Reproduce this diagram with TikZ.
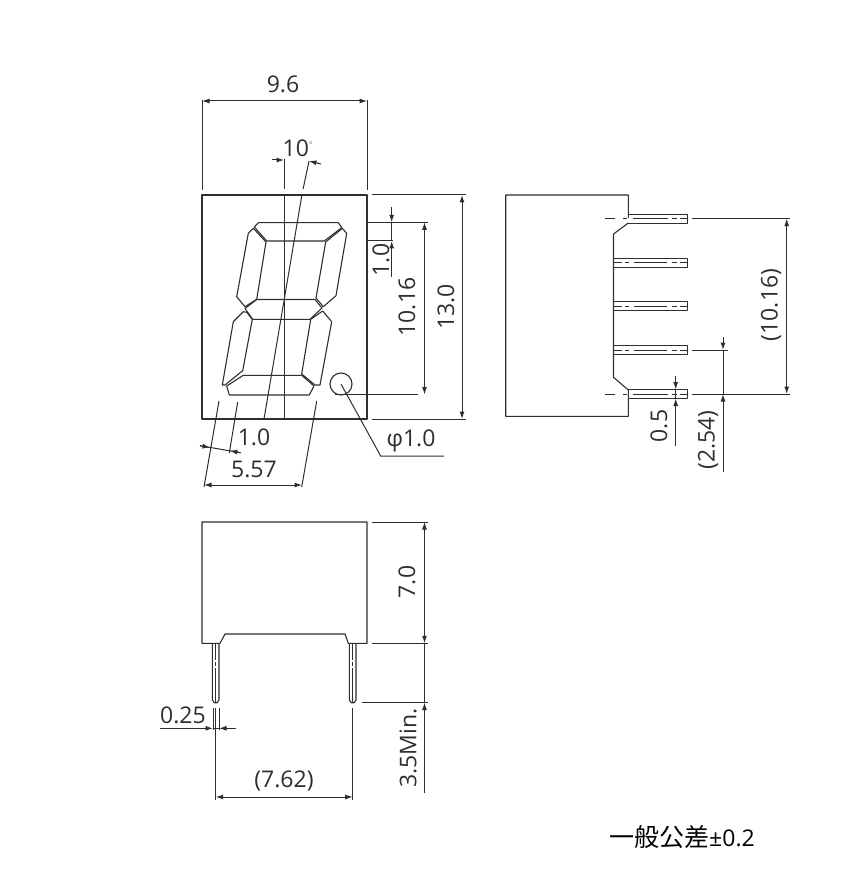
\documentclass[tikz,border=0pt]{standalone}
\usepackage{fontspec}
\setmainfont{Open Sans}
\newfontfamily\cjk{Noto Sans CJK JP}
\usetikzlibrary{arrows.meta}
\definecolor{inkgray}{gray}{0.18}
\tikzset{
  part/.style={draw=inkgray, line width=1.1pt, line join=round},
  thinline/.style={draw=inkgray, line width=1pt},
  dimline/.style={thinline, arrows={Latex[length=7.5pt,width=5pt]-Latex[length=7.5pt,width=5pt]}},
  dimend/.style={thinline, arrows={-Latex[length=7.5pt,width=5pt]}},
  label/.style={inner sep=0pt, text=inkgray, font=\fontsize{23}{27}\selectfont},
  vlabel/.style={label, rotate=90},
  pincenter/.style={thinline, dash pattern=on 8pt off 3pt on 4pt off 5pt on 33pt off 5pt on 5pt off 3pt on 8pt},
  outercenter/.style={thinline, dash pattern=on 10pt off 8pt on 4pt off 6pt on 35pt off 4pt on 5pt off 3pt on 8pt},
}
\begin{document}
\begin{tikzpicture}[x=1pt, y=-1pt]
 \useasboundingbox (0,0) rectangle (848,882);

 %front view
 \draw[part] (202,195) rectangle (367,419);
 \draw[part] (341,384) circle (11);

 %segments
 \draw[part] (258.3,222.7) -- (338.3,222.7) -- (341.7,227.7) -- (324.3,241) -- (266.7,241) -- (254.3,227) -- cycle;
 \draw[part] (342.3,228.3) -- (346.7,233.3) -- (336,295.7) -- (323.3,306.7) -- (316,298) -- (325.7,242) -- cycle;
 \draw[part] (253.3,228.3) -- (248.3,233.3) -- (236.7,296.7) -- (245,306.7) -- (256.7,299.3) -- (266,242) -- cycle;
 \draw[part] (256.7,299.5) -- (315,299.5) -- (322,308) -- (310,319.3) -- (252.7,319.3) -- (245,308.5) -- cycle;
 \draw[part] (243.3,311.7) -- (233.3,321.7) -- (222.3,385) -- (225,385) -- (242.7,370.7) -- (252.3,319.3) -- (246.7,312.3) -- cycle;
 \draw[part] (322.7,311) -- (331.7,321.7) -- (320,385) -- (315,385) -- (301.7,374) -- (310.7,319.3) -- cycle;
 \draw[part] (243.3,375.3) -- (301.7,375.3) -- (314,386) -- (309.3,395) -- (229.3,395) -- (226.7,386) -- cycle;

 %width 9.6
 \draw[thinline] (202,100) -- (202,190);
 \draw[thinline] (367,100) -- (367,190);
 \draw[dimline] (202,101) -- (367,101);
 \node[label] (width) at (283,84) {9.6};

 %slant 10
 \draw[thinline] (284,159) -- (284,189);
 \draw[thinline] (284,195) -- (284,419);
 \draw[thinline] (309,161) -- (303.1,189);
 \draw[thinline] (301.9,195) -- (264,419);
 \draw[dimend] (272,160) -- (284,160);
 \draw[dimend] (321,164) -- (309,161);
 \node[label] (slant) at (298,148) {10\raisebox{9pt}{\fontsize{8}{9}\selectfont $^\circ$}};

 %below the front view
 \draw[thinline] (219,401) -- (204,487);
 \draw[thinline] (237.7,402) -- (229.3,453);
 \draw[thinline] (316.7,401) -- (301.7,487);
 \draw[thinline] (200,445.7) -- (240.7,452.7);
 \draw[dimend] (200,445.7) -- (210,447.5);
 \draw[dimend] (240.7,452.7) -- (229.8,450.8);
 \draw[dimline] (204,485) -- (302,485);
 \node[label] (gap) at (254,437) {1.0};
 \node[label] (pitch) at (254,469) {5.57};

 %dot leader
 \draw[thinline] (341,384) -- (380.7,456) -- (444,456);
 \node[label] (dot) at (411,441) {φ1.0};

 %right of the front view
 \draw[thinline] (372,195) -- (466,195);
 \draw[thinline] (372,419) -- (466,419);
 \draw[thinline] (367,222.3) -- (428,222.3);
 \draw[thinline] (367,241) -- (393,241);
 \draw[thinline] (335,394.5) -- (418,394.5);
 \draw[dimline] (462,195) -- (462,419);
 \draw[dimline] (424.5,222.3) -- (424.5,394.5);
 \draw[thinline] (391.7,222.3) -- (391.7,241);
 \draw[dimend] (391.7,207) -- (391.7,222.3);
 \draw[dimend] (391.7,277) -- (391.7,241);
 \node[vlabel] (segh) at (381,260) {1.0};
 \node[vlabel] (digith) at (407,307) {10.16};
 \node[vlabel] (bodyh) at (446,307) {13.0};

 %side view
 \draw[part] (628.3,218) -- (628.3,195) -- (505.7,195) -- (505.7,416.3) -- (628.3,416.3) -- (628.3,390) -- (613.5,377.3) -- (613.5,234) -- (628.3,223);
 \foreach \y in {218.7,394} {
   \draw[part] (628.3,\y-4.5) -- (687.7,\y-4.5) -- (687.7,\y+4.5) -- (628.3,\y+4.5);
   \draw[outercenter] (605,\y) -- (688,\y);
 }
 \foreach \y in {262.7,306.3,350} {
   \draw[part] (613.5,\y-4.5) -- (687.7,\y-4.5) -- (687.7,\y+4.5) -- (613.5,\y+4.5);
   \draw[pincenter] (613.5,\y) -- (687.7,\y);
 }

 %side view dimensions
 \draw[thinline] (692,218.7) -- (790,218.7);
 \draw[thinline] (692,394) -- (790,394);
 \draw[thinline] (692,350) -- (728,350);
 \draw[dimline] (786.7,218.7) -- (786.7,394);
 \draw[thinline] (675.7,389.5) -- (675.7,398.5);
 \draw[dimend] (675.7,376) -- (675.7,389.5);
 \draw[dimend] (675.7,446) -- (675.7,398.5);
 \draw[thinline] (723,350) -- (723,394);
 \draw[dimend] (723,337) -- (723,350);
 \draw[dimend] (723,472) -- (723,394);
 \node[vlabel] (span) at (771,305) {(10.16)};
 \node[vlabel] (pinw) at (659,426) {0.5};
 \node[vlabel] (pinp) at (708,440) {(2.54)};

 %bottom view
 \draw[part] (220,643.3) -- (202,643.3) -- (202,522) -- (367,522) -- (367,643.3) -- (348.3,643.3) -- (345,634) -- (225,634) -- cycle;
 \foreach \x in {215.7,352.7} {
   \draw[part] (\x-3.3,643.3) -- (\x-3.3,700) -- (\x-1.5,702.7) -- (\x+1.5,702.7) -- (\x+3.3,700) -- (\x+3.3,643.3);
   \draw[thinline, dash pattern=on 17pt off 2pt on 4pt off 2pt on 34pt] (\x,643.3) -- (\x,702);
 }

 %bottom view dimensions
 \draw[thinline] (213,708) -- (213,730);
 \draw[thinline] (219,708) -- (219,730);
 \draw[thinline] (215.7,708) -- (215.7,800);
 \draw[thinline] (352.7,708) -- (352.7,800);
 \draw[thinline] (213,728.3) -- (219,728.3);
 \draw[dimend] (160,728.3) -- (213,728.3);
 \draw[dimend] (236,728.3) -- (219,728.3);
 \draw[dimline] (215.7,797) -- (352.7,797);
 \node[label] (lead) at (183,715) {0.25};
 \node[label] (leadp) at (284,781) {(7.62)};

 \draw[thinline] (372,522) -- (428,522);
 \draw[thinline] (372,643.3) -- (428,643.3);
 \draw[thinline] (361.7,702.5) -- (428,702.5);
 \draw[dimline] (424.5,522) -- (424.5,643.3);
 \draw[thinline] (424.5,643.3) -- (424.5,702.5);
 \draw[dimend] (424.5,793) -- (424.5,702.5);
 \node[vlabel] (bodyd) at (407,582) {7.0};
 \node[vlabel] (leadl) at (408,748) {3.5Min.};

 %tolerance
 \node[inner sep=0pt, anchor=west, text=black] (tol) at (609,837) {{\cjk\fontsize{25}{29}\selectfont 一般公差}{\fontsize{23}{27}\selectfont ±0.2}};

\end{tikzpicture}
\end{document}
